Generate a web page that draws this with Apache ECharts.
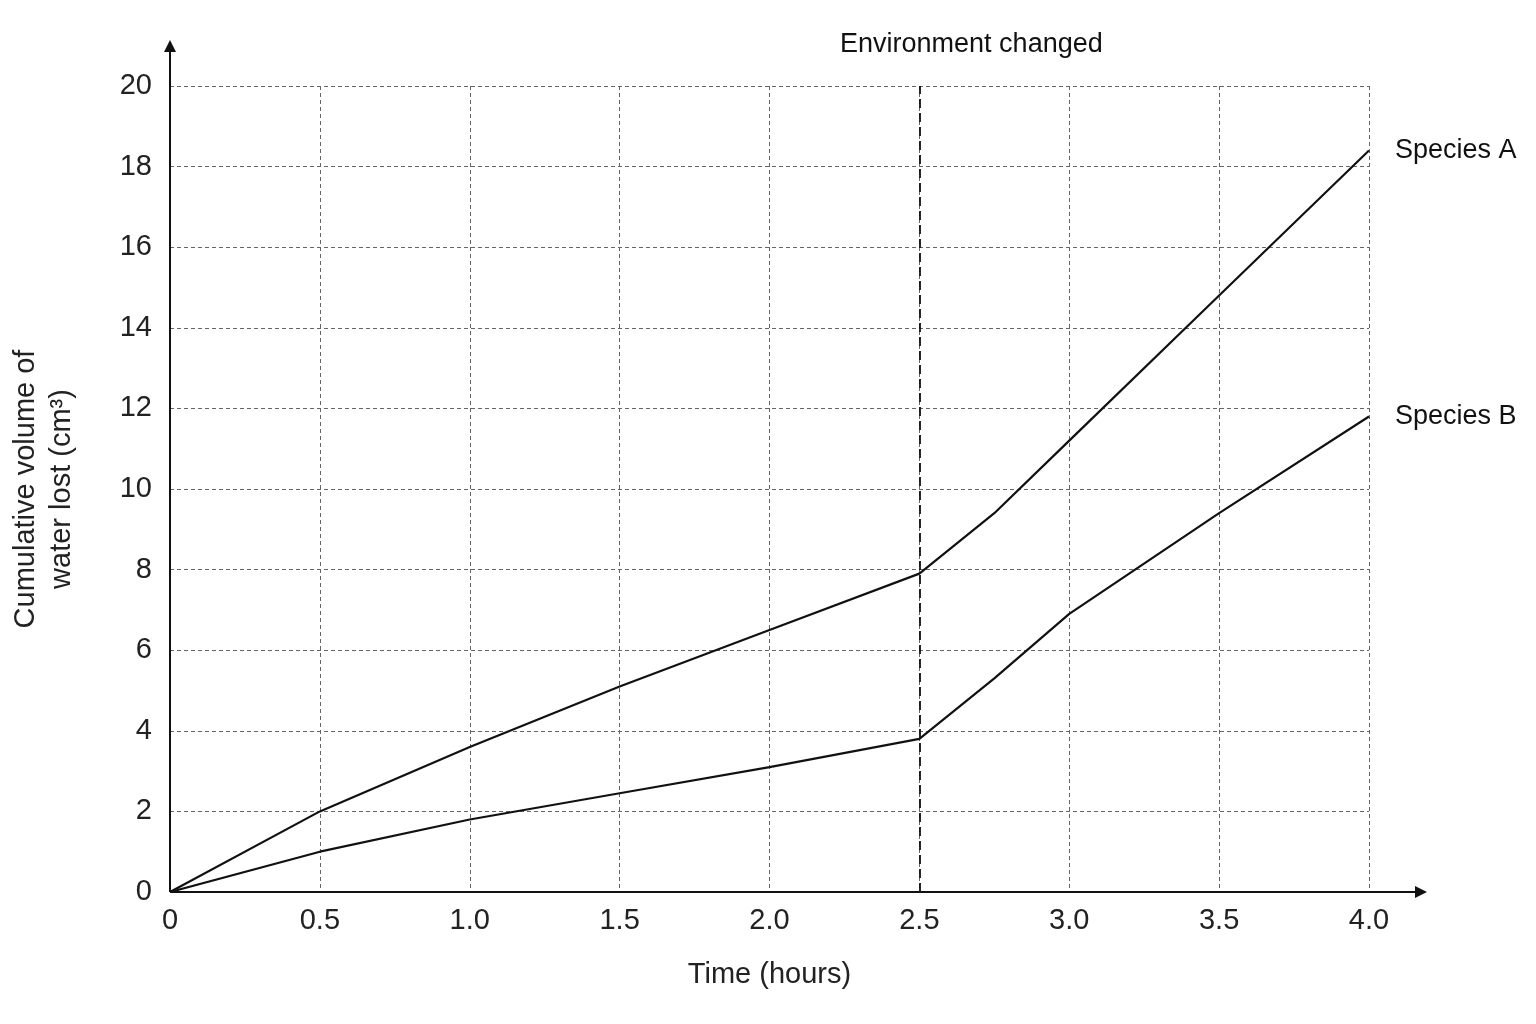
<!DOCTYPE html><html><head><meta charset="utf-8">
<script src="https://cdn.jsdelivr.net/npm/echarts@6/dist/echarts.min.js"></script>
<style>html,body{margin:0;background:#fff}#c{width:1536px;height:1024px}</style></head><body><div id="c"></div>
<script>
const times=[0,0.5,1.0,1.5,2.0,2.5,2.75,3.0,3.5,4.0];
const speciesA=[0,2.0,3.6,5.1,6.5,7.9,9.4,11.2,14.8,18.4];
const speciesB=[0,1.0,1.8,2.45,3.1,3.8,5.3,6.9,9.4,11.8];
const xTicks=['0','0.5','1.0','1.5','2.0','2.5','3.0','3.5','4.0'];
const changeTime=2.5;
const F='Liberation Sans Narrow, Liberation Sans, Arial';
const chart=echarts.init(document.getElementById('c'));
const pair=a=>times.map((t,i)=>[t,a[i]]);
const lineSeries=(name,arr)=>({type:'line',name,data:pair(arr),symbol:'none',lineStyle:{color:'#111',width:2.2},
 endLabel:{show:true,formatter:name,color:'#111',fontFamily:F,fontSize:27,offset:[18,0]}});
chart.setOption({
 animation:false,
 grid:{left:167,right:167,top:86,bottom:132},
 xAxis:{type:'value',min:0,max:4,interval:0.5,
  axisLine:{show:false},axisTick:{show:false},
  splitLine:{show:true,lineStyle:{type:[4,3],color:'#666',width:1}},
  axisLabel:{fontFamily:F,fontSize:29,color:'#222',margin:14,formatter:v=>xTicks[Math.round(v/0.5)]},
  name:'Time (hours)',nameLocation:'middle',nameGap:68,nameTextStyle:{fontFamily:F,fontSize:29,color:'#222'}},
 yAxis:{type:'value',min:0,max:20,interval:2,
  axisLine:{show:false},axisTick:{show:false},
  splitLine:{show:true,lineStyle:{type:[4,3],color:'#666',width:1}},
  axisLabel:{fontFamily:F,fontSize:29,color:'#222',margin:18},
  name:'Cumulative volume of\nwater lost (cm³)',nameLocation:'middle',nameGap:90,
  nameTextStyle:{fontFamily:F,fontSize:29,color:'#222',lineHeight:36}},
 series:[
  Object.assign(lineSeries('Species A',speciesA),{markLine:{symbol:'none',silent:true,
   lineStyle:{type:[9,5],color:'#111',width:1.8},
   label:{show:true,position:'end',formatter:'Environment changed',fontFamily:F,fontSize:27,color:'#111',distance:[0,28],offset:[52,0]},
   data:[{xAxis:changeTime}]}}),
  lineSeries('Species B',speciesB)
 ]
});
const o=chart.convertToPixel({gridIndex:0},[0,0]);
const xe=chart.convertToPixel({gridIndex:0},[4,20]);
const st={stroke:'#111',lineWidth:2};
chart.setOption({graphic:[
 {type:'line',shape:{x1:o[0],y1:o[1],x2:xe[0]+52,y2:o[1]},style:st},
 {type:'polygon',shape:{points:[[xe[0]+58,o[1]],[xe[0]+46,o[1]-6],[xe[0]+46,o[1]+6]]},style:{fill:'#111'}},
 {type:'line',shape:{x1:o[0],y1:o[1],x2:o[0],y2:xe[1]-40},style:st},
 {type:'polygon',shape:{points:[[o[0],xe[1]-46],[o[0]-6,xe[1]-34],[o[0]+6,xe[1]-34]]},style:{fill:'#111'}}
]});
</script></body></html>
